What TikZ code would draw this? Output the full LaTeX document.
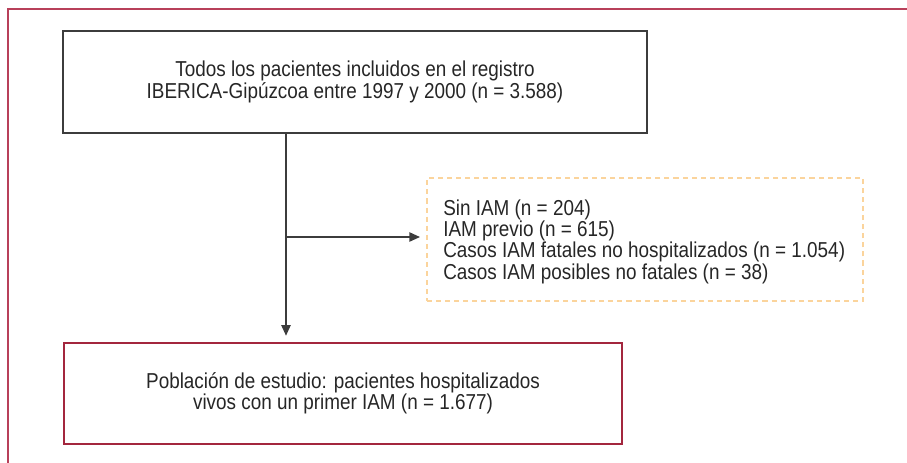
\documentclass[tikz,border=0pt]{standalone}
\usepackage{fontspec}
\setmainfont{Liberation Sans}[FakeStretch=0.875]
\usetikzlibrary{arrows.meta}
\definecolor{framered}{HTML}{B8405A}
\definecolor{boxred}{HTML}{A3263E}
\definecolor{dashorange}{HTML}{FBD49C}
\definecolor{boxgray}{HTML}{3C3C3C}
\definecolor{txt}{HTML}{262626}
\tikzset{
  base/.style={font=\fontsize{16.2pt}{16pt}\selectfont, text=txt, align=center, inner sep=0pt},
  topbox/.style={base, draw=boxgray, line width=1.1pt, minimum width=438pt, minimum height=76.5pt},
  botbox/.style={base, draw=boxred, line width=1.9pt, minimum width=418.5pt, minimum height=75.75pt},
  exclbox/.style={draw=dashorange, line width=1.5pt, dash pattern=on 3.8pt off 3pt,
     inner sep=0pt, minimum width=327pt, minimum height=92.25pt},
  excltext/.style={base, align=left, anchor=west},
  conn/.style={draw=boxgray, line width=1.15pt, -{Triangle[length=8pt,width=7pt]}, shorten >=4.5pt}
}
\begin{document}
\begin{tikzpicture}[x=0.75pt,y=-0.75pt]
\useasboundingbox (0,0) rectangle (907,462);
\draw[framered, line width=1.5pt] (8,470) -- (8,9) -- (915,9);
\node[topbox] (top) at (355,82) {Todos los pacientes incluidos en el registro\\IBERICA-Gipúzcoa entre 1997 y 2000 (n = 3.588)};
\node[exclbox] (excl) at (645,239.5) {};
\node[excltext] (excltxt) at ([xshift=12.75pt,yshift=-1.5pt]excl.west) {Sin IAM (n = 204)\\IAM previo (n = 615)\\Casos IAM fatales no hospitalizados (n = 1.054)\\Casos IAM posibles no fatales (n = 38)};
\node[botbox] (bot) at (343,393.5) {Población de estudio: pacientes hospitalizados\\vivos con un primer IAM (n = 1.677)};
\coordinate (j) at (286,237);
\draw[conn] (top.south -| j) -- (bot.north -| j);
\draw[conn] (j) -- (excl.west |- j);
\end{tikzpicture}
\end{document}
